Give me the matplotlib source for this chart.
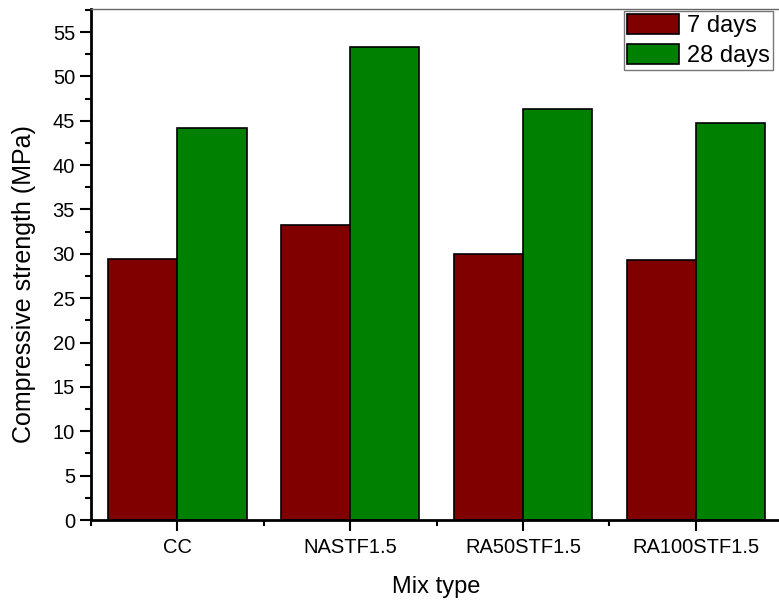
import matplotlib
matplotlib.use("Agg")
import matplotlib.pyplot as plt
import numpy as np
from matplotlib.ticker import MultipleLocator

plt.rcParams['font.family'] = ['Liberation Sans', 'DejaVu Sans']

mixes = ["CC", "NASTF1.5", "RA50STF1.5", "RA100STF1.5"]
days7 = [29.4, 33.2, 30.0, 29.3]
days28 = [44.2, 53.3, 46.3, 44.8]

fig = plt.figure(figsize=(7.79, 6.03), dpi=100)
ax = fig.add_axes([91 / 779, 83 / 603, (779 - 91) / 779 + 0.004, (520 - 9) / 603])

x = np.arange(len(mixes))
w = 0.4
ax.bar(x - w / 2, days7, w, color="#800000", edgecolor="black", linewidth=1.2, label="7 days")
ax.bar(x + w / 2, days28, w, color="#008000", edgecolor="black", linewidth=1.2, label="28 days")

ax.set_xlim(-0.5, 3.5)
ax.set_ylim(0, 57.6)
ax.set_xticks(x)
ax.set_xticklabels(mixes)
ax.xaxis.set_minor_locator(MultipleLocator(0.5))
ax.yaxis.set_major_locator(MultipleLocator(5))
ax.yaxis.set_minor_locator(MultipleLocator(2.5))

ax.tick_params(axis="both", which="major", direction="out", length=8, width=1.5, labelsize=14.5)
ax.tick_params(axis="both", which="minor", direction="out", length=4, width=1.5)
ax.tick_params(axis="x", pad=5)

for s in ("left", "bottom"):
    ax.spines[s].set_linewidth(2)
ax.spines["top"].set_color("#666666")
ax.spines["top"].set_linewidth(1)
ax.spines["right"].set_visible(False)

ax.set_ylabel("Compressive strength (MPa)", fontsize=18)
ax.yaxis.set_label_coords(-0.079, 0.462)
ax.set_xlabel("Mix type", fontsize=17, labelpad=14)

leg = ax.legend(loc="upper right", fontsize=17, frameon=True, fancybox=False,
                edgecolor="#555555", handlelength=2.2, handleheight=0.95,
                handletextpad=0.35, borderpad=0.12, labelspacing=0.28,
                borderaxespad=0.0)
leg.set_bbox_to_anchor((773 / 779, (603 - 11) / 603), transform=fig.transFigure)
leg.get_frame().set_linewidth(1)

fig.savefig("out.png", dpi=100)
